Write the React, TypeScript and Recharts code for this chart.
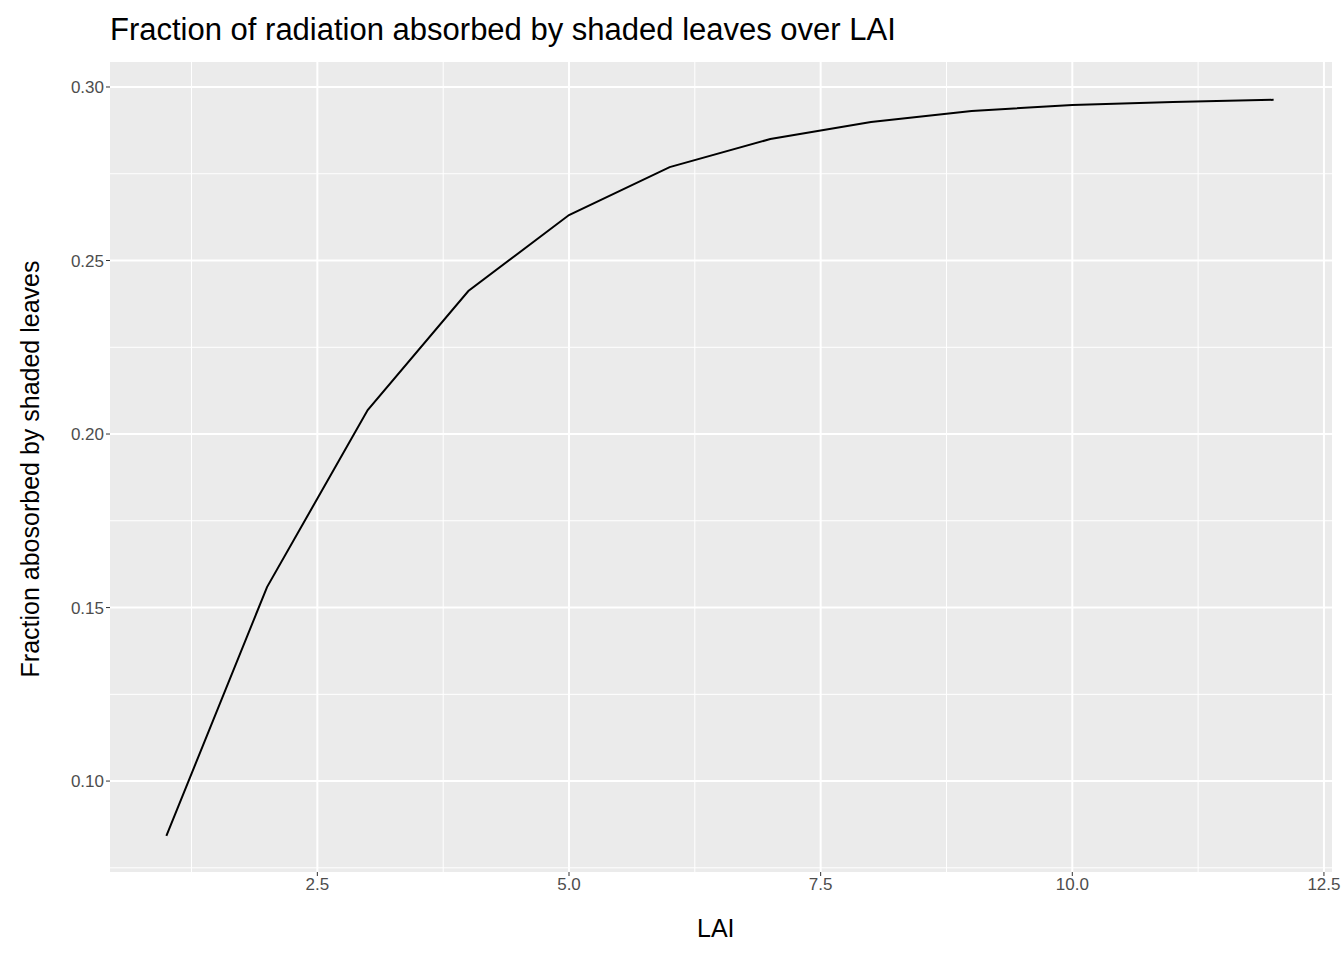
import React from 'react';
import { CartesianGrid, Line, LineChart, XAxis, YAxis } from 'recharts';

const lai = [1, 2, 3, 4, 5, 6, 7, 8, 9, 10, 11, 12];
const fraction = [0.0842, 0.1559, 0.2069, 0.2412, 0.2631, 0.2769, 0.285, 0.2899, 0.2931, 0.2948, 0.2957, 0.2963];
const xTicks = [2.5, 5, 7.5, 10, 12.5];
const xMinor = [1.25, 3.75, 6.25, 8.75, 11.25];
const yTicks = [0.1, 0.15, 0.2, 0.25, 0.3];
const yMinor = [0.075, 0.125, 0.175, 0.225, 0.275];

const data = lai.map((x, i) => ({ lai: x, f: fraction[i] }));

const font = 'Liberation Sans, Arial, sans-serif';
const tickStyle = { fill: '#4D4D4D', fontSize: 17, fontFamily: font };

export default function App() {
  return (
    <div style={{ position: 'fixed', left: 0, top: 0, width: 1344, height: 960, background: '#fff', fontFamily: font }}>
      <div style={{ position: 'absolute', left: 110, top: 12, fontSize: 31, color: '#000' }}>
        Fraction of radiation absorbed by shaded leaves over LAI
      </div>
      <div style={{ position: 'absolute', left: 697, top: 914, fontSize: 25 }}>LAI</div>
      <div
        style={{
          position: 'absolute', left: 30, top: 469, fontSize: 25, whiteSpace: 'nowrap',
          transform: 'translate(-50%, -50%) rotate(-90deg)',
        }}
      >
        Fraction abosorbed by shaded leaves
      </div>
      <LineChart width={1344} height={960} data={data} margin={{ top: 62, right: 12, left: 0, bottom: 0 }}>
        <CartesianGrid fill="#EBEBEB" stroke="#fff" strokeWidth={1} horizontalValues={yMinor} verticalValues={xMinor} />
        <CartesianGrid stroke="#fff" strokeWidth={2} horizontalValues={yTicks} verticalValues={xTicks} />
        <XAxis
          dataKey="lai" type="number" domain={[0.44, 12.58]} ticks={xTicks} allowDataOverflow
          tickFormatter={(v: number) => v.toFixed(1)} height={88} axisLine={false}
          tickLine={{ stroke: '#333' }} tickSize={4} tick={tickStyle} fontSize={17}
        />
        <YAxis
          type="number" domain={[0.0738, 0.3072]} ticks={yTicks} allowDataOverflow
          tickFormatter={(v: number) => v.toFixed(2)} width={110} axisLine={false}
          tickLine={{ stroke: '#333' }} tickSize={4} tick={tickStyle} fontSize={17}
        />
        <Line dataKey="f" type="linear" stroke="#000" strokeWidth={2} dot={false} isAnimationActive={false} />
      </LineChart>
    </div>
  );
}
